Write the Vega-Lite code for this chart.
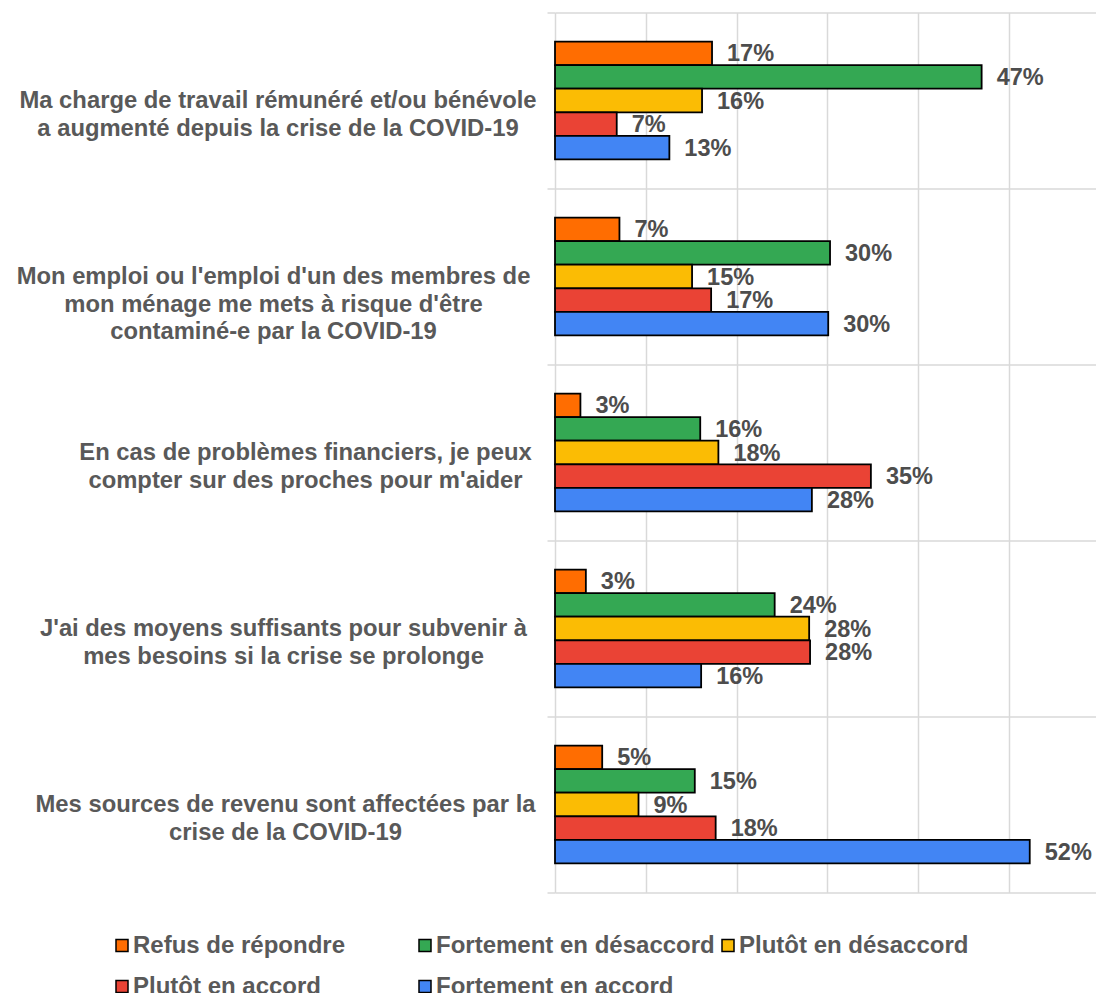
{
  "$schema": "https://vega.github.io/schema/vega-lite/v6.json",
  "autosize": "none",
  "padding": {"left": 555, "top": 12.5, "right": 0, "bottom": 100.5},
  "width": 541,
  "height": 880,
  "config": {"view": {"stroke": null}, "font": "Liberation Sans"},
  "data": {"values": [
    {"q": "Ma charge de travail rémunéré et/ou bénévole|a augmenté depuis la crise de la COVID-19", "s": "Refus de répondre", "v": 0.173},
    {"q": "Ma charge de travail rémunéré et/ou bénévole|a augmenté depuis la crise de la COVID-19", "s": "Fortement en désaccord", "v": 0.47},
    {"q": "Ma charge de travail rémunéré et/ou bénévole|a augmenté depuis la crise de la COVID-19", "s": "Plutôt en désaccord", "v": 0.162},
    {"q": "Ma charge de travail rémunéré et/ou bénévole|a augmenté depuis la crise de la COVID-19", "s": "Plutôt en accord", "v": 0.068},
    {"q": "Ma charge de travail rémunéré et/ou bénévole|a augmenté depuis la crise de la COVID-19", "s": "Fortement en accord", "v": 0.126},
    {"q": "Mon emploi ou l'emploi d'un des membres de|mon ménage me mets à risque d'être|contaminé-e par la COVID-19", "s": "Refus de répondre", "v": 0.071},
    {"q": "Mon emploi ou l'emploi d'un des membres de|mon ménage me mets à risque d'être|contaminé-e par la COVID-19", "s": "Fortement en désaccord", "v": 0.303},
    {"q": "Mon emploi ou l'emploi d'un des membres de|mon ménage me mets à risque d'être|contaminé-e par la COVID-19", "s": "Plutôt en désaccord", "v": 0.151},
    {"q": "Mon emploi ou l'emploi d'un des membres de|mon ménage me mets à risque d'être|contaminé-e par la COVID-19", "s": "Plutôt en accord", "v": 0.172},
    {"q": "Mon emploi ou l'emploi d'un des membres de|mon ménage me mets à risque d'être|contaminé-e par la COVID-19", "s": "Fortement en accord", "v": 0.301},
    {"q": "En cas de problèmes financiers, je peux|compter sur des proches pour m'aider", "s": "Refus de répondre", "v": 0.028},
    {"q": "En cas de problèmes financiers, je peux|compter sur des proches pour m'aider", "s": "Fortement en désaccord", "v": 0.16},
    {"q": "En cas de problèmes financiers, je peux|compter sur des proches pour m'aider", "s": "Plutôt en désaccord", "v": 0.18},
    {"q": "En cas de problèmes financiers, je peux|compter sur des proches pour m'aider", "s": "Plutôt en accord", "v": 0.348},
    {"q": "En cas de problèmes financiers, je peux|compter sur des proches pour m'aider", "s": "Fortement en accord", "v": 0.283},
    {"q": "J'ai des moyens suffisants pour subvenir à|mes besoins si la crise se prolonge", "s": "Refus de répondre", "v": 0.034},
    {"q": "J'ai des moyens suffisants pour subvenir à|mes besoins si la crise se prolonge", "s": "Fortement en désaccord", "v": 0.242},
    {"q": "J'ai des moyens suffisants pour subvenir à|mes besoins si la crise se prolonge", "s": "Plutôt en désaccord", "v": 0.28},
    {"q": "J'ai des moyens suffisants pour subvenir à|mes besoins si la crise se prolonge", "s": "Plutôt en accord", "v": 0.281},
    {"q": "J'ai des moyens suffisants pour subvenir à|mes besoins si la crise se prolonge", "s": "Fortement en accord", "v": 0.161},
    {"q": "Mes sources de revenu sont affectées par la|crise de la COVID-19", "s": "Refus de répondre", "v": 0.052},
    {"q": "Mes sources de revenu sont affectées par la|crise de la COVID-19", "s": "Fortement en désaccord", "v": 0.154},
    {"q": "Mes sources de revenu sont affectées par la|crise de la COVID-19", "s": "Plutôt en désaccord", "v": 0.092},
    {"q": "Mes sources de revenu sont affectées par la|crise de la COVID-19", "s": "Plutôt en accord", "v": 0.177},
    {"q": "Mes sources de revenu sont affectées par la|crise de la COVID-19", "s": "Fortement en accord", "v": 0.523}
  ]},
  "encoding": {
    "y": {
      "field": "q", "type": "nominal", "sort": null,
      "scale": {"paddingInner": 0, "paddingOuter": 0},
      "axis": {
        "title": null,
        "tickBand": "extent",
        "grid": true, "gridColor": "#d9d9d9", "gridWidth": 1.5,
        "ticks": true, "tickColor": "#d9d9d9", "tickWidth": 1.5, "tickSize": 8,
        "domain": false,
        "labelExpr": "split(datum.label, '|')",
        "labelAlign": "center", "labelBaseline": "middle",
        "labelFont": "Liberation Sans", "labelFontSize": 23.8, "labelFontWeight": "bold",
        "labelColor": "#595959", "labelLineHeight": 27.5, "labelLimit": 0,
        "labelPadding": {
          "condition": [
            {"test": "datum.value == 'Ma charge de travail rémunéré et/ou bénévole|a augmenté depuis la crise de la COVID-19'", "value": 269.5},
            {"test": "datum.value == \"Mon emploi ou l'emploi d'un des membres de|mon ménage me mets à risque d'être|contaminé-e par la COVID-19\"", "value": 274},
            {"test": "datum.value == \"En cas de problèmes financiers, je peux|compter sur des proches pour m'aider\"", "value": 242},
            {"test": "datum.value == \"J'ai des moyens suffisants pour subvenir à|mes besoins si la crise se prolonge\"", "value": 264}
          ],
          "value": 262
        }
      }
    },
    "yOffset": {
      "field": "s", "type": "nominal",
      "scale": {
        "domain": [" ", "Refus de répondre", "Fortement en désaccord", "Plutôt en désaccord", "Plutôt en accord", "Fortement en accord", "  "],
        "paddingInner": 0, "paddingOuter": 0.236
      }
    },
    "x": {
      "field": "v", "type": "quantitative",
      "scale": {"domain": [0, 0.596], "nice": false, "zero": true},
      "axis": {
        "title": null, "values": [0, 0.1, 0.2, 0.3, 0.4, 0.5],
        "grid": true, "gridColor": "#d9d9d9", "gridWidth": 1.5,
        "labels": false, "ticks": false, "domain": false
      }
    }
  },
  "layer": [
    {
      "mark": {"type": "bar", "stroke": "#000000", "strokeWidth": 1.8},
      "encoding": {
        "fill": {
          "field": "s", "type": "nominal",
          "scale": {
            "domain": ["Refus de répondre", "Fortement en désaccord", "Plutôt en désaccord", "Plutôt en accord", "Fortement en accord"],
            "range": ["#FF6D01", "#34A853", "#FBBC04", "#EA4335", "#4285F4"]
          },
          "legend": {
            "title": null, "orient": "none", "legendX": -445, "legendY": 921,
            "direction": "horizontal", "columns": 3, "gridAlign": "all",
            "columnPadding": 1, "rowPadding": 17, "padding": 0,
            "symbolType": "square", "symbolSize": 144,
            "symbolStrokeColor": "#000000", "symbolStrokeWidth": 1.5,
            "labelFont": "Liberation Sans", "labelFontSize": 24, "labelFontWeight": "bold",
            "labelColor": "#595959", "labelOffset": -1, "labelLimit": 0
          }
        }
      }
    },
    {
      "mark": {"type": "text", "align": "left", "baseline": "middle", "dx": 15, "dy": 1,
               "font": "Liberation Sans", "fontSize": 23.5, "fontWeight": "bold", "fill": "#4d4d4d"},
      "encoding": {
        "text": {"field": "v", "type": "quantitative", "format": ".0%"}
      }
    }
  ]
}
